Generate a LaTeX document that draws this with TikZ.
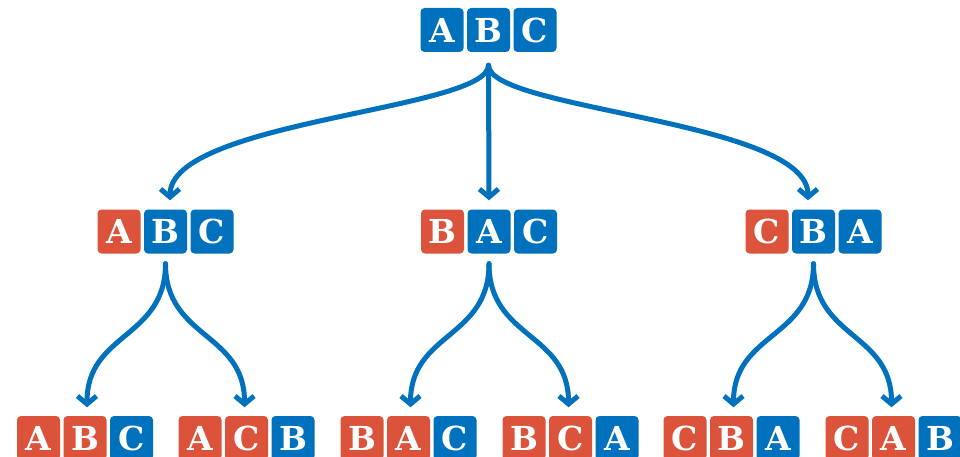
\documentclass[tikz,border=0pt]{standalone}
\usepackage{fontspec}
\setmainfont{DejaVu Serif}
\usetikzlibrary{arrows.meta}
\definecolor{bl}{RGB}{0,113,188}
\definecolor{rd}{RGB}{220,83,59}
\begin{document}
\begin{tikzpicture}[x=1pt,y=-1pt,
  box/.style={rounded corners=4pt, minimum width=43pt, minimum height=44pt, inner sep=0pt, text=white, font=\fontsize{33}{33}\selectfont\bfseries},
  arr/.style={draw=bl, line width=5pt, line cap=round, line join=round, -{Straight Barb[length=8pt,width=19pt]}}]
\useasboundingbox (0,0) rectangle (960,457);
\foreach \n/\x/\y/\la/\ca/\lb/\cb/\lc/\cc in {
  t/488.5/30/A/bl/B/bl/C/bl,
  ma/165.5/231.5/A/rd/B/bl/C/bl,
  mb/489/231.5/B/rd/A/bl/C/bl,
  mc/813.5/231.5/C/rd/B/bl/A/bl,
  ba/85/438/A/rd/B/rd/C/bl,
  bb/246.5/438/A/rd/C/rd/B/bl,
  bc/408.5/438/B/rd/A/rd/C/bl,
  bd/570.5/438/B/rd/C/rd/A/bl,
  be/731.5/438/C/rd/B/rd/A/bl,
  bf/893.5/438/C/rd/A/rd/B/bl}{
  \node[box,fill=\ca] (\n1) at (\x-46.5,\y) {\la};
  \node[box,fill=\cb] (\n2) at (\x,\y) {\lb};
  \node[box,fill=\cc] (\n3) at (\x+46.5,\y) {\lc};
}
% top level
\draw[arr] ([yshift=-13pt]t2.south) .. controls +(0,45) and +(0,-80) .. ([xshift=4.5pt,yshift=9pt]ma2.north);
\draw[arr] ([yshift=-13pt]t2.south) -- ([yshift=9pt]mb2.north);
\draw[arr] ([yshift=-13pt]t2.south) .. controls +(0,45) and +(0,-80) .. ([xshift=-5.5pt,yshift=9pt]mc2.north);
% second level
\foreach \m/\l/\r in {ma/ba/bb, mb/bc/bd, mc/be/bf}{
  \draw[arr] ([yshift=-10pt]\m2.south) .. controls +(0,75) and +(0,-75) .. ([xshift=2pt,yshift=8.5pt]\l2.north);
  \draw[arr] ([yshift=-10pt]\m2.south) .. controls +(0,75) and +(0,-75) .. ([xshift=-2pt,yshift=8.5pt]\r2.north);
}
\end{tikzpicture}
\end{document}
